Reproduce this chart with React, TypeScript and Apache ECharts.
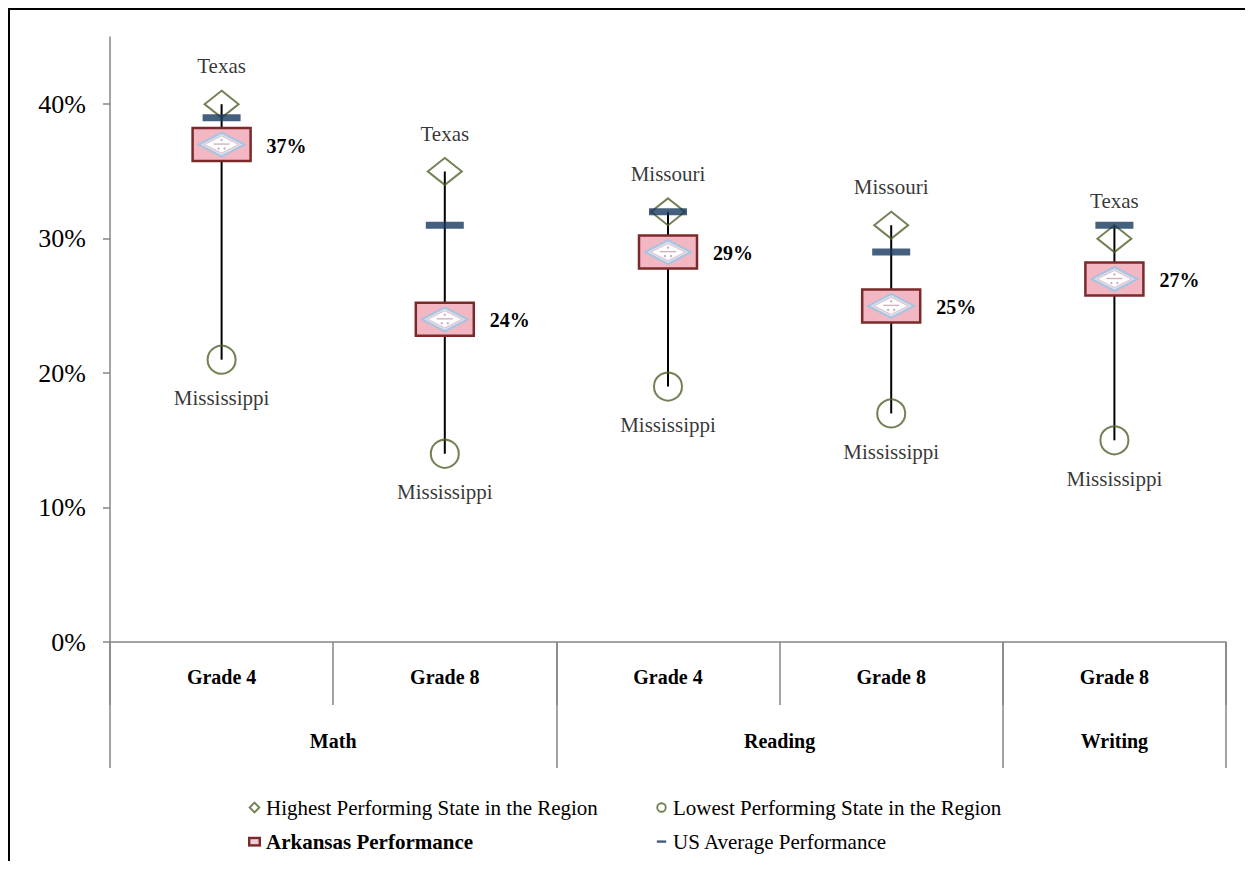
import React, { useEffect, useRef } from "react";
import * as echarts from "echarts";

const grades = ["Grade 4", "Grade 8", "Grade 4", "Grade 8", "Grade 8"];
const subjectSlots = ["", "", "Math", "", "", "", "Reading", "", "", "Writing", ""];
const highValues = [40, 35, 32, 31, 30];
const highStates = ["Texas", "Texas", "Missouri", "Missouri", "Texas"];
const lowValues = [21, 14, 19, 17, 15];
const lowStates = ["Mississippi", "Mississippi", "Mississippi", "Mississippi", "Mississippi"];
const arkansasValues = [37, 24, 29, 25, 27];
const usAverageValues = [39, 31, 32, 29, 31];
const yTicks = [0, 10, 20, 30, 40];

const FONT = "Liberation Serif, Times New Roman, serif";
const GREEN = "#4f6228";
const NAVY = "#17375e";
const AXIS = "#868686";

const svgIcon = (body: string) =>
  "image://data:image/svg+xml;utf8," +
  encodeURIComponent(
    `<svg xmlns='http://www.w3.org/2000/svg' width='14' height='14' viewBox='0 0 14 14'>${body}</svg>`
  );

const iconDiamond = svgIcon(`<polygon points='7,1.8 12.2,7 7,12.2 1.8,7' fill='none' stroke='${GREEN}' stroke-width='2'/>`);
const iconCircle = svgIcon(`<circle cx='7' cy='7' r='4.6' fill='none' stroke='${GREEN}' stroke-width='2'/>`);
const iconArkansas = svgIcon(
  `<rect x='1.3' y='3.2' width='11.4' height='8' fill='#ead0d6' stroke='#7b2a2a' stroke-width='2.6'/>`
);
const iconDash = svgIcon(`<rect x='2' y='5.8' width='10' height='2.6' fill='${NAVY}'/>`);

export default function App() {
  const ref = useRef<HTMLDivElement>(null);

  useEffect(() => {
    document.documentElement.style.overflow = "hidden";
    if (!ref.current) return;
    const chart = echarts.init(ref.current, undefined, { renderer: "svg" });

    const rangeData = grades.map((_, i) => {
      const vals = [highValues[i], lowValues[i], arkansasValues[i], usAverageValues[i]];
      return [i, Math.min(...vals), Math.max(...vals)];
    });

    const legendText = { fontFamily: FONT, fontSize: 21, color: "#000" };

    const option: any = {
      animation: false,
      backgroundColor: "#fff",
      textStyle: { fontFamily: FONT, color: "#000" },
      grid: { left: 100, right: 27, top: 27, bottom: 219, containLabel: false },
      xAxis: [
        {
          type: "category",
          data: grades,
          position: "bottom",
          boundaryGap: true,
          axisLine: { lineStyle: { color: AXIS, width: 1.5 } },
          axisTick: { show: true, interval: 0, length: 63, lineStyle: { color: AXIS, width: 1.5 } },
          axisLabel: {
            interval: 0,
            margin: 25,
            fontFamily: FONT,
            fontSize: 20,
            fontWeight: "bold",
            color: "#000",
          },
          splitLine: { show: false },
        },
        {
          type: "category",
          data: subjectSlots,
          position: "bottom",
          boundaryGap: false,
          axisLine: { show: false },
          axisTick: {
            show: true,
            interval: (idx: number) => idx === 0 || idx === 4 || idx === 8 || idx === 10,
            length: 126,
            lineStyle: { color: AXIS, width: 1.5 },
          },
          axisLabel: {
            interval: 0,
            margin: 89,
            fontFamily: FONT,
            fontSize: 20,
            fontWeight: "bold",
            color: "#000",
          },
          splitLine: { show: false },
        },
      ],
      yAxis: {
        type: "value",
        min: 0,
        max: 45,
        interval: 10,
        axisLine: { show: true, lineStyle: { color: AXIS, width: 1.5 } },
        axisTick: { show: true, length: 7, lineStyle: { color: AXIS, width: 1.5 }, customValues: yTicks },
        axisLabel: {
          customValues: yTicks,
          formatter: "{value}%",
          margin: 24,
          fontFamily: FONT,
          fontSize: 26,
          color: "#000",
        },
        splitLine: { show: false },
      },
      legend: [
        {
          orient: "vertical",
          left: 233,
          top: 782,
          itemWidth: 13,
          itemHeight: 13,
          itemGap: 13,
          textStyle: legendText,
          data: [
            { name: "Highest Performing State in the Region", icon: iconDiamond },
            {
              name: "Arkansas Performance",
              icon: iconArkansas,
              textStyle: { ...legendText, fontWeight: "bold" },
            },
          ],
          selectedMode: false,
        },
        {
          orient: "vertical",
          left: 640,
          top: 782,
          itemWidth: 13,
          itemHeight: 13,
          itemGap: 13,
          textStyle: legendText,
          data: [
            { name: "Lowest Performing State in the Region", icon: iconCircle },
            { name: "US Average Performance", icon: iconDash },
          ],
          selectedMode: false,
        },
      ],
      series: [
        {
          name: "range",
          type: "custom",
          xAxisIndex: 0,
          z: 1,
          encode: { x: 0, y: [1, 2] },
          data: rangeData,
          renderItem: (params: any, api: any) => {
            const i = api.value(0);
            const p1 = api.coord([i, api.value(1)]);
            const p2 = api.coord([i, api.value(2)]);
            return {
              type: "line",
              shape: { x1: p1[0], y1: p1[1], x2: p2[0], y2: p2[1] },
              style: { stroke: "#000", lineWidth: 2 },
            };
          },
        },
        {
          name: "Highest Performing State in the Region",
          type: "scatter",
          xAxisIndex: 0,
          z: 2,
          symbol: "diamond",
          symbolSize: [34, 27],
          itemStyle: { color: "rgba(0,0,0,0)", borderColor: GREEN, borderWidth: 2 },
          label: {
            show: true,
            position: "top",
            distance: 13,
            formatter: (p: any) => highStates[p.dataIndex],
            fontFamily: FONT,
            fontSize: 21,
            color: "#000",
          },
          data: highValues,
        },
        {
          name: "Lowest Performing State in the Region",
          type: "scatter",
          xAxisIndex: 0,
          z: 2,
          symbol: "circle",
          symbolSize: 28,
          itemStyle: { color: "rgba(0,0,0,0)", borderColor: GREEN, borderWidth: 2 },
          label: {
            show: true,
            position: "bottom",
            distance: 13,
            formatter: (p: any) => lowStates[p.dataIndex],
            fontFamily: FONT,
            fontSize: 21,
            color: "#000",
          },
          data: lowValues,
        },
        {
          name: "Arkansas Performance",
          type: "custom",
          xAxisIndex: 0,
          z: 3,
          encode: { x: 0, y: 1 },
          data: arkansasValues.map((v, i) => [i, v]),
          renderItem: (params: any, api: any) => {
            const i = api.value(0);
            const v = api.value(1);
            const p = api.coord([i, v]);
            return {
              type: "group",
              x: p[0],
              y: p[1],
              children: [
                {
                  type: "rect",
                  shape: { x: -29, y: -16.5, width: 58, height: 33 },
                  style: { fill: "#f3b7c4", stroke: "#7b2a2a", lineWidth: 2.5 },
                },
                {
                  type: "polygon",
                  shape: { points: [[0, -12], [23, 0], [0, 12], [-23, 0]] },
                  style: { fill: "#d3e0ec", stroke: "#a9c2de", lineWidth: 2 },
                },
                {
                  type: "polygon",
                  shape: { points: [[0, -8.5], [17, 0], [0, 8.5], [-17, 0]] },
                  style: { fill: "#ffffff", stroke: "#e6b3be", lineWidth: 0.8 },
                },
                {
                  type: "rect",
                  shape: { x: -8, y: -1.2, width: 16, height: 1.4 },
                  style: { fill: "#d2b2ba" },
                },
                {
                  type: "circle",
                  shape: { cx: -3, cy: 4, r: 1.2 },
                  style: { fill: "#c0b0cc" },
                },
                {
                  type: "circle",
                  shape: { cx: 3, cy: 4, r: 1.2 },
                  style: { fill: "#c0b0cc" },
                },
                {
                  type: "circle",
                  shape: { cx: 0, cy: -4.5, r: 1.2 },
                  style: { fill: "#c0b0cc" },
                },
                {
                  type: "text",
                  x: 45,
                  y: 1,
                  style: {
                    text: v + "%",
                    fontFamily: FONT,
                    fontSize: 20,
                    fontWeight: "bold",
                    fill: "#000",
                    align: "left",
                    verticalAlign: "middle",
                  },
                },
              ],
            };
          },
        },
        {
          name: "US Average Performance",
          type: "scatter",
          xAxisIndex: 0,
          z: 4,
          symbol: "rect",
          symbolSize: [38, 7],
          itemStyle: { color: NAVY },
          data: usAverageValues,
        },
      ],
    };

    chart.setOption(option);
    return () => chart.dispose();
  }, []);

  return (
    <div
      style={{
        width: 1245,
        height: 853,
        borderTop: "2px solid #000",
        borderLeft: "2px solid #000",
        boxSizing: "border-box",
        overflow: "hidden",
        background: "#fff",
      }}
    >
      <div ref={ref} style={{ width: 1243, height: 851 }} />
    </div>
  );
}
